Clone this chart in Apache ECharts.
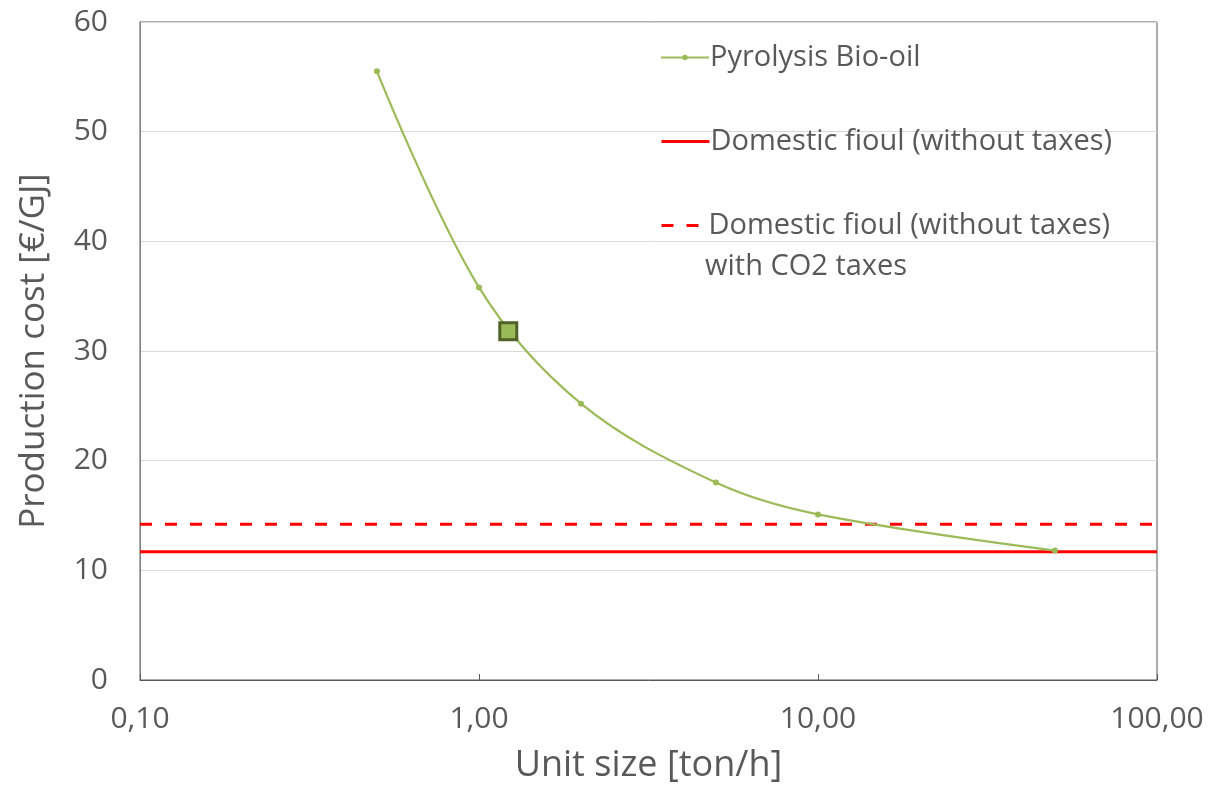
<!DOCTYPE html>
<html>
<head>
<meta charset="utf-8">
<script src="https://cdn.jsdelivr.net/npm/echarts@6/dist/echarts.min.js"></script>
<style>html,body{margin:0;padding:0;background:#fff;}#c{width:1209px;height:791px;}</style>
</head>
<body>
<div id="c"></div>
<script>
const unitSize = [0.5, 1, 2, 5, 10, 50];
const bioOilCost = [55.5, 35.8, 25.2, 18.0, 15.1, 11.8];
const highlightPoint = [[1.22, 31.8]];
const fioulRangeX = [0.1, 100];
const fioulCost = 11.7;
const fioulCo2Cost = 14.2;
const yTicks = [0, 10, 20, 30, 40, 50, 60];
const xTicks = [0.1, 1, 10, 100];

const FONT = '"Open Sans", "Noto Sans", sans-serif';
const TXT = '#595959';
const LEG_FS = 29;

const chart = echarts.init(document.getElementById('c'));
chart.setOption({
  animation: false,
  backgroundColor: '#fff',
  grid: { left: 140, right: 52, top: 22, bottom: 111, show: true, borderColor: '#595959', borderWidth: 1, containLabel: false },
  legend: [
    {
      data: [{ name: 'Pyrolysis Bio-oil' }],
      left: 655, top: 38, itemWidth: 48, itemHeight: 7, itemGap: 4,
      lineStyle: { width: 2 },
      textStyle: { fontFamily: FONT, fontSize: LEG_FS, color: TXT, padding: [0, 0, 0, -4] }
    },
    {
      data: [{ name: 'Domestic fioul (without taxes)' }],
      left: 655, top: 122, itemWidth: 48, itemHeight: 14,
      itemStyle: { opacity: 0 }, lineStyle: { width: 3 },
      textStyle: { fontFamily: FONT, fontSize: LEG_FS, color: TXT, padding: [0, 0, 0, -4] }
    },
    {
      data: [{ name: 'Domestic fioul (without taxes) with CO2 taxes' }],
      left: 655, top: 206, itemWidth: 48, itemHeight: 14,
      itemStyle: { opacity: 0 }, lineStyle: { width: 3 },
      formatter: function () { return 'Domestic fioul (without taxes)'; },
      textStyle: { fontFamily: FONT, fontSize: LEG_FS, color: TXT, padding: [0, 0, 0, -6] }
    }
  ],
  graphic: [
    { type: 'text', left: 705, top: 252, style: { text: 'with CO2 taxes', fontFamily: FONT, fontSize: LEG_FS, fill: TXT } }
  ],
  xAxis: {
    type: 'log', logBase: 10, min: xTicks[0], max: xTicks[xTicks.length - 1],
    name: 'Unit size [ton/h]', nameLocation: 'middle', nameGap: 68,
    nameTextStyle: { fontFamily: FONT, fontSize: 36, color: TXT },
    axisLine: { show: true, lineStyle: { color: '#595959', width: 1 } },
    axisTick: { show: true, inside: true, length: 6, lineStyle: { color: '#595959' } },
    axisLabel: { fontFamily: FONT, fontSize: 30, color: TXT, margin: 24,
      formatter: function (v) { return Number(v).toFixed(2).replace('.', ','); } },
    splitLine: { show: false }, minorTick: { show: false }
  },
  yAxis: {
    type: 'value', min: yTicks[0], max: yTicks[yTicks.length - 1], interval: 10,
    name: 'Production cost [€/GJ]', nameLocation: 'middle', nameGap: 88,
    nameTextStyle: { fontFamily: FONT, fontSize: 35, color: TXT },
    axisLine: { show: true, lineStyle: { color: '#808080', width: 1 } },
    axisTick: { show: false },
    axisLabel: { fontFamily: FONT, fontSize: 30, color: TXT, margin: 32 },
    splitLine: { show: true, lineStyle: { color: '#d9d9d9', width: 1 } }
  },
  series: [
    {
      name: 'Pyrolysis Bio-oil', type: 'line', smooth: 0.35,
      data: unitSize.map((x, i) => [x, bioOilCost[i]]),
      symbol: 'circle', symbolSize: 6,
      itemStyle: { color: '#9bbb59' },
      lineStyle: { color: '#9bbb59', width: 2.2 }, z: 3
    },
    {
      name: 'Domestic fioul (without taxes)', type: 'line',
      data: fioulRangeX.map(x => [x, fioulCost]),
      showSymbol: false, symbol: 'none',
      itemStyle: { color: '#ff0000' },
      lineStyle: { color: '#ff0000', width: 3 }, z: 2
    },
    {
      name: 'Domestic fioul (without taxes) with CO2 taxes', type: 'line',
      data: fioulRangeX.map(x => [x, fioulCo2Cost]),
      showSymbol: false, symbol: 'none',
      itemStyle: { color: '#ff0000' },
      lineStyle: { color: '#ff0000', width: 3, type: [12, 13] }, z: 2
    },
    {
      name: 'highlight', type: 'scatter', data: highlightPoint,
      symbol: 'rect', symbolSize: 17,
      itemStyle: { color: '#9bbb59', opacity: 1, borderColor: '#4f6228', borderWidth: 3 }, z: 5
    }
  ]
});
</script>
</body>
</html>
